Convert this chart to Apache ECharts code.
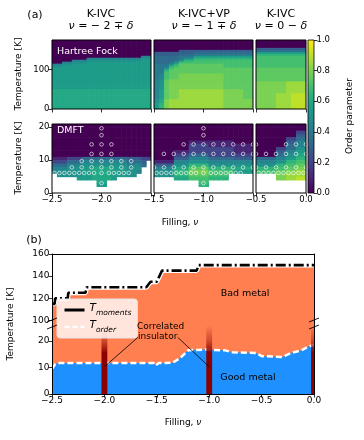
<!DOCTYPE html>
<html>
<head>
<meta charset="utf-8">
<script src="https://cdn.jsdelivr.net/npm/echarts@6/dist/echarts.min.js"></script>
<style>
  html, body { margin: 0; padding: 0; background: #fff; }
  #chart { width: 364px; height: 440px; }
</style>
</head>
<body>
<div id="chart"></div>
<script>
// order parameter maps, one string per temperature row (top row first),
// one char per 0.05 of filling. '0'..'9','A' = 0.0..1.0, 'a'..'j' = 0.05..0.95, '.' = no data
const hfLeft = [
  '00000000000000000000','00000000000000000000','00000000000000000000','00000000000000000000',
  '00000000000000000000','00000000000000000000','00000000000000000000','00000000000000000000',
  '000000000000000000ee','0000000eeeeeeeeeee55','0000eee55555555555ff','00ee555fffffffffffff',
  'ee55ffffffffffffffff','55ffffffffffffffffff','ffffffffffffffffffff','ffffffffffffffffffff',
  'ffffffffffffffffffff','ffffffffffffffffffff','ffffffffffffffffffff','ffffffffffffffffffff',
  'ffffffffffffffffffff','ffffffffffffffffffff','ffffffffffffffffffff','ffffffffffffffffffff',
  'ffffffffffffffffffff','66666666666666666666','66666666666666666666','66666666666666666666',
  '66666666666666666666','66666666666666666666','66666666666666666666','66666666666666666666',
  '66666666666666666666','66666666666666666666','66666666666666666666'
];
const hfMid = [
  '00000000000000000000','00000000000000000000','00000000000000000000','00000000000000000000',
  '00000000000000000000','00000333333333333333','33333333dddddddddddd','33333ddd444444444444',
  'ddddd444ffffffffffff','ddddd455gggggggggggg','dddd45gg777777777777','ddd45777777777777777',
  '4445ghhhhhhhhh777777','444g7hhhhhhhhh777777','4457hhhhhhhhhhhhhhhh','44ghhhhhhhhhhhhhhhhh',
  '447hhhhhhhhhhhhhhhhh','4e7hh888888888hhhhhh','4e7hh888888888hhhhhh','4e7hh888888888hhhhhh',
  'e5h88888888888hhhhhh','e5h88888888888hhhhhh','e5h88888888888hhhhhh','e5h88888888888hhhhhh',
  'e5h88888888888hhhhhh','efh88iiiiiiiii8888hh','efh88iiiiiiiii8888hh','efh88iiiiiiiii8888hh',
  'efh88iiiiiiiii8888hh','efh88iiiiiiiii8888hh','568iiiiiiiiiii888888','568iiiiiiiiiii888888',
  'fg8iiiiiiiiiii888888','fg8iiiiiiiiiii888888','fg8iiiiiiiiiii888888'
];
const hfRight = [
  '0000000000','0000000000','0000000000','0000000000','3333333333','dddddddddd','ffffffffff',
  'gggggggggg','7777777777','7777777777','7777777777','7777777777','7777777777','7777777777',
  'hhhhhhhhhh','hhhhhhhhhh','hhhhhhhhhh','hhhhhhhhhh','hhhhhhhhhh','hhhhhhhhhh','hhhhhhhhhh',
  '888888iiii','888888iiii','888888iiii','888888iiii','888888iiii','888888iiii',
  '8888iii999','8888iii999','8888iii999','8888iii999','8888iii999','8888iii999','8888iii999','8888iii999'
];
const dmftLeft = [
  '00000000000000000000','00000000000000000000','00000000000000000000','00000000000000000000',
  '00000000000000000000','00000000000000000000','00000000000000000000','00000000000000000000',
  '00000000000000000000','00000000000000000000','111222ddddddddd33322','222dddeeeeeeeeeddd3.',
  'dddeee555555555eeed.','eee555ff6666fff555..','e55555ff6666fff55e..','.55555ff6666fff55...',
  '.....fff6666f.......','.........66.........','.........ff.........','....................',
  '....................'
];
const dmftMid = [
  '00000000000000000000','00000000000000000000','00000000000000000000','00000000000000000000',
  '00000000000000000000','00000001111111110000','00000002222111111111','00000002222222221111',
  '00001112222222221111','0000222dddd222222222','0000333eeeeddddd3333','1111eee5555eeeeeeeee',
  '3333555gggg555555555','eeee666hhhhggggg6666','5555ggg888877777ffff','5555ggghhhh7777.....',
  '....6667777gggg.....','.........77.........','.........gg.........','....................',
  '....................'
];
const dmftRight = [
  '0000000000','0000000000','0000000022','0000000033','00000022dd','00000033ee','000000ddee',
  '000022dd55','000033eeff','0000dd5566','ddddeeffgg','eeee55gg77','5555gg77hh','gggg77hh88',
  '7777hh88ii','....88iiii','....88ii99','..........','..........','..........','..........'
];

// DMFT sample points: temperatures and the fillings computed at each
const dotT = [19.7, 17.6, 14.8, 11.9, 9.7, 7.8, 6.1, 3.0];
const dotF = [
  [-2.0, -1.0],
  [-2.0, -1.0],
  [-2.1, -2.0, -1.9, -1.2, -1.1, -1.0, -0.9, -0.8, -0.7, -0.6, -0.5, -0.2, -0.1, 0.0],
  [-2.1, -2.0, -1.9, -1.4, -1.3, -1.2, -1.1, -1.0, -0.9, -0.8, -0.7, -0.6, -0.5, -0.4, -0.3, -0.2, -0.1, 0.0],
  [-2.2, -2.1, -2.0, -1.9, -1.8, -1.7],
  [-2.3, -2.2, -2.1, -2.0, -1.9, -1.8, -1.7, -1.5, -1.4, -1.3, -1.2, -1.1, -1.0, -0.9, -0.8, -0.7, -0.6,
   -0.5, -0.4, -0.3, -0.2, -0.1, 0.0],
  [-2.475, -2.425, -2.375, -2.325, -2.275, -2.225, -2.175, -2.125, -2.075, -2.0, -1.925, -1.875, -1.825,
   -1.775, -1.725, -1.475, -1.425, -1.375, -1.325, -1.275, -1.225, -1.175, -1.125, -1.075, -1.0, -0.925,
   -0.875, -0.825, -0.775, -0.725, -0.675, -0.625, -0.475, -0.425, -0.375, -0.325, -0.275, -0.225,
   -0.175, -0.125, -0.075, -0.025],
  [-2.0, -1.0]
];

// panel (b)
const momF = [-2.5, -2.475, -2.47, -2.35, -2.345, -2.18, -2.17, -1.60, -1.56, -1.50, -1.45, -1.12, -1.10, 0.0];
const momT = [115, 115, 120, 120, 125, 125, 130, 130, 135, 135, 145, 145, 150, 150];
const ordF = [-2.5, -2.47, -2.44, -1.53, -1.51, -1.48, -1.35, -1.28, -1.20, -1.05, -0.85, -0.78, -0.55,
  -0.50, -0.30, -0.22, -0.12, -0.05, 0.0];
const ordT = [9.5, 11.2, 11.7, 11.7, 10.8, 11.7, 11.8, 13.5, 16.5, 16.8, 16.5, 15.8, 15.5, 14.3, 14.0,
  15.5, 16.5, 18.0, 18.5];
const insF = [-2.0, -1.0, 0.0];
const insTop = [25.7, 25.7, 25.7];
const annotFrom = [[-1.68, 21.4], [-1.30, 21.4]];
const annotTo = [[-2.0, 10.3], [-1.0, 10.3]];

const VIRIDIS = ['#440154','#471365','#482475','#463480','#414487','#3b528b','#355f8d','#2f6c8e',
  '#2a788e','#25848e','#21918c','#1e9c89','#22a884','#2fb47c','#44bf70','#5ec962','#7ad151',
  '#9bd93c','#bddf26','#dfe318','#fde725'];
const LEVELS = '0a1b2c3d4e5f6g7h8i9jA';
const FONT = 'DejaVu Sans';
const CORAL = '#FF7F50', BLUE = '#1E90FF', DARKRED = '#8B0000';

const fmt = v => (v < 0 ? '\u2212' : '') + Math.abs(v).toFixed(1);

function cells(rows, f0, tMax, dT) {
  const out = [];
  rows.forEach((row, i) => {
    for (let j = 0; j < row.length; j++) {
      if (row[j] === '.') continue;
      out.push([f0 + j * 0.05, tMax - (i + 1) * dT, LEVELS.indexOf(row[j])]);
    }
  });
  return out;
}

function heat(gi, rows, f0, tMax, dT) {
  return {
    type: 'custom', xAxisIndex: gi, yAxisIndex: gi, clip: true, silent: true,
    data: cells(rows, f0, tMax, dT),
    renderItem(params, api) {
      const a = api.coord([api.value(0), api.value(1) + dT]);
      const b = api.coord([api.value(0) + 0.05, api.value(1)]);
      return {
        type: 'rect',
        shape: { x: a[0], y: a[1], width: b[0] - a[0] + 0.6, height: b[1] - a[1] + 0.6 },
        style: { fill: VIRIDIS[api.value(2)] }
      };
    }
  };
}

function dots(gi, fMin, fMax) {
  const pts = [];
  dotT.forEach((t, i) => dotF[i].forEach(f => {
    if (f >= fMin - 1e-6 && f <= fMax + 1e-6) pts.push([f, t]);
  }));
  return {
    type: 'scatter', xAxisIndex: gi, yAxisIndex: gi, data: pts, symbol: 'circle', symbolSize: 3.6,
    itemStyle: { color: 'rgba(0,0,0,0)', borderColor: '#fff', borderWidth: 0.8 }, z: 5, silent: true
  };
}

const tick = (vals, show = true) => ({
  show, length: 3.5, customValues: vals, lineStyle: { color: '#000', width: 0.8 }
});
const lab = (vals, size, f) => ({
  show: vals.length > 0, customValues: vals, fontSize: size, color: '#000', fontFamily: FONT,
  margin: 2.5, formatter: f
});

const panels = [
  { left: 52, width: 99, min: -2.5, max: -1.5 },
  { left: 154, width: 99, min: -1.5, max: -0.5 },
  { left: 256, width: 50, min: -0.5, max: 0 }
];
const grids = [], xAxes = [], yAxes = [];
// HF row (grids 0-2), DMFT row (grids 3-5)
[[40, 175, [0, 100]], [124, 21, [0, 10, 20]]].forEach(([top, tmax, yt], r) => {
  panels.forEach((p, k) => {
    const gi = grids.length;
    grids.push({ left: p.left, top, width: p.width, height: 69, show: true, z: 10,
      backgroundColor: 'rgba(0,0,0,0)', borderColor: '#000', borderWidth: 1 });
    const xt = k === 0 ? [-2.5, -2.0, -1.5] : k === 1 ? [-1.5, -1.0, -0.5] : [-0.5, 0.0];
    const xl = r === 0 ? [] : (k === 0 ? [-2.5, -2.0] : k === 1 ? [-1.5, -1.0] : [-0.5, 0.0]);
    xAxes.push({ type: 'value', gridIndex: gi, min: p.min, max: p.max, axisLine: { show: false },
      splitLine: { show: false }, axisTick: tick(xt), axisLabel: lab(xl, 8.5, fmt) });
    yAxes.push({ type: 'value', gridIndex: gi, min: 0, max: tmax, axisLine: { show: false, onZero: false },
      splitLine: { show: false }, axisTick: tick(yt, k === 0),
      axisLabel: lab(k === 0 ? yt : [], 8.5, v => String(v)) });
  });
});
// colorbar (grid 6)
grids.push({ left: 308, top: 40, width: 6, height: 153, show: true, z: 10,
  backgroundColor: 'rgba(0,0,0,0)', borderColor: '#000', borderWidth: 0.8 });
xAxes.push({ type: 'value', gridIndex: 6, min: 0, max: 1, show: false });
yAxes.push({ type: 'value', gridIndex: 6, min: 0, max: 1, position: 'right',
  axisLine: { show: false, onZero: false }, splitLine: { show: false },
  axisTick: tick([0, 0.2, 0.4, 0.6, 0.8, 1.0]),
  axisLabel: lab([0, 0.2, 0.4, 0.6, 0.8, 1.0], 8.5, v => v.toFixed(1)) });
// panel (b): upper part (grid 7) and lower part (grid 8) of the broken axis
const spine = { show: true, onZero: false, lineStyle: { color: '#000', width: 1 } };
grids.push({ left: 52, top: 254, width: 262, height: 72 });
grids.push({ left: 52, top: 326, width: 262, height: 68, show: true, backgroundColor: CORAL, borderWidth: 0 });
xAxes.push({ type: 'value', gridIndex: 7, min: -2.5, max: 0, show: false });
xAxes.push({ type: 'value', gridIndex: 8, min: -2.5, max: 0, interval: 0.5, z: 10, axisLine: spine,
  splitLine: { show: false }, axisTick: tick([-2.5, -2, -1.5, -1, -0.5, 0]),
  axisLabel: lab([-2.5, -2, -1.5, -1, -0.5, 0], 9, fmt) });
yAxes.push({ type: 'value', gridIndex: 7, min: 95, max: 160, z: 10, axisLine: spine, splitLine: { show: false },
  axisTick: tick([100, 120, 140, 160]), axisLabel: lab([100, 120, 140, 160], 9, v => String(v)) });
yAxes.push({ type: 'value', gridIndex: 8, min: 0, max: 25.7, z: 10, axisLine: spine, splitLine: { show: false },
  axisTick: tick([0, 10, 20]), axisLabel: lab([0, 10, 20], 9, v => String(v)) });
// extra spines
xAxes.push({ type: 'value', gridIndex: 7, min: -2.5, max: 0, position: 'top', z: 10, axisLine: spine,
  axisTick: { show: false }, axisLabel: { show: false }, splitLine: { show: false } });
yAxes.push({ type: 'value', gridIndex: 7, min: 95, max: 160, position: 'right', z: 10, axisLine: spine,
  axisTick: { show: false }, axisLabel: { show: false }, splitLine: { show: false } });
yAxes.push({ type: 'value', gridIndex: 8, min: 0, max: 25.7, position: 'right', z: 10, axisLine: spine,
  axisTick: { show: false }, axisLabel: { show: false }, splitLine: { show: false } });

const series = [
  heat(0, hfLeft, -2.5, 175, 5), heat(1, hfMid, -1.5, 175, 5), heat(2, hfRight, -0.5, 175, 5),
  heat(3, dmftLeft, -2.5, 21, 1), heat(4, dmftMid, -1.5, 21, 1), heat(5, dmftRight, -0.5, 21, 1),
  dots(3, -2.5, -1.5), dots(4, -1.5, -0.5), dots(5, -0.5, 0),
  {
    type: 'custom', xAxisIndex: 6, yAxisIndex: 6, data: [[0, 0]], silent: true,
    renderItem(params, api) {
      const a = api.coord([0, 1]), b = api.coord([1, 0]);
      return { type: 'rect', shape: { x: a[0], y: a[1], width: b[0] - a[0], height: b[1] - a[1] },
        style: { fill: new echarts.graphic.LinearGradient(0, 1, 0, 0,
          VIRIDIS.map((c, i) => ({ offset: i / 20, color: c }))) } };
    }
  },
  {
    name: 'halo', type: 'line', xAxisIndex: 7, yAxisIndex: 7, data: momF.map((f, i) => [f, momT[i]]),
    symbol: 'none', lineStyle: { color: '#fff', width: 5 }, areaStyle: { color: CORAL, opacity: 1, origin: 'start' },
    z: 2, silent: true
  },
  {
    name: 'Tmom', type: 'line', xAxisIndex: 7, yAxisIndex: 7, data: momF.map((f, i) => [f, momT[i]]),
    symbol: 'none', lineStyle: { color: '#000', width: 2.6, type: [10, 3, 2, 3] }, z: 3, silent: true
  },
  {
    name: 'Tord', type: 'line', xAxisIndex: 8, yAxisIndex: 8, data: ordF.map((f, i) => [f, ordT[i]]),
    symbol: 'none', lineStyle: { color: '#fff', width: 2.5, type: [6, 3] },
    areaStyle: { color: BLUE, opacity: 1, origin: 'start' }, z: 2, silent: true
  },
  {
    type: 'custom', xAxisIndex: 8, yAxisIndex: 8, clip: true, silent: true, z: 4,
    data: insF.map((f, i) => [f, insTop[i]]),
    renderItem(params, api) {
      const a = api.coord([api.value(0) - 0.028, api.value(1)]);
      const b = api.coord([api.value(0) + 0.028, 0]);
      return { type: 'rect', shape: { x: a[0], y: a[1], width: b[0] - a[0], height: b[1] - a[1] },
        style: { fill: new echarts.graphic.LinearGradient(0, 0, 0, 1, [
          { offset: 0, color: 'rgba(139,0,0,0)' }, { offset: 0.2, color: 'rgba(160,20,10,0.45)' },
          { offset: 0.4, color: DARKRED }, { offset: 1, color: DARKRED }]) } };
    }
  }
];
annotFrom.forEach((p, i) => series.push({
  type: 'line', xAxisIndex: 8, yAxisIndex: 8, data: [p, annotTo[i]], symbol: 'none', silent: true,
  lineStyle: { color: '#000', width: 0.8 }, z: 6
}));

const txt = (x, y, text, size, extra) => ({
  type: 'text', x, y, z: 100, silent: true,
  style: Object.assign({ text, fontSize: size, fontFamily: FONT, fill: '#000', align: 'center', verticalAlign: 'middle' }, extra || {})
});
const greek = { i: { fontStyle: 'italic', fontSize: 11, fontFamily: FONT } };
const brk = (x1, y1, x2, y2) => ({ type: 'line', z: 100, silent: true,
  shape: { x1, y1, x2, y2 }, style: { stroke: '#000', lineWidth: 0.9 } });

const graphic = [
  txt(35, 15, '(a)', 11),
  txt(101, 14, 'K-IVC', 11), txt(101, 26, '{i|\u03bd} = \u2212 2 \u2213 {i|\u03b4}', 11, { rich: greek }),
  txt(204, 14, 'K-IVC+VP', 11), txt(204, 26, '{i|\u03bd} = \u2212 1 \u2213 {i|\u03b4}', 11, { rich: greek }),
  txt(281, 14, 'K-IVC', 11), txt(281, 26, '{i|\u03bd} = 0 \u2212 {i|\u03b4}', 11, { rich: greek }),
  txt(57, 52, 'Hartree Fock', 9.5, { align: 'left', fill: '#fff' }),
  txt(57, 131, 'DMFT', 9.5, { align: 'left', fill: '#fff' }),
  Object.assign(txt(19, 74, 'Temperature [K]', 9), { rotation: Math.PI / 2 }),
  Object.assign(txt(19, 158, 'Temperature [K]', 9), { rotation: Math.PI / 2 }),
  Object.assign(txt(350, 116, 'Order parameter', 9), { rotation: Math.PI / 2 }),
  txt(180, 223, 'Filling, {i|\u03bd}', 9, { rich: { i: { fontStyle: 'italic', fontSize: 9, fontFamily: FONT } } }),
  txt(34, 240, '(b)', 11),
  Object.assign(txt(11, 324, 'Temperature [K]', 9), { rotation: Math.PI / 2 }),
  txt(183, 423, 'Filling, {i|\u03bd}', 9, { rich: { i: { fontStyle: 'italic', fontSize: 9, fontFamily: FONT } } }),
  txt(245, 294, 'Bad metal', 9.5),
  txt(248, 378, 'Good metal', 9.5),
  txt(137, 327, 'Correlated', 9, { align: 'left' }),
  txt(138, 337, 'insulator', 9, { align: 'left' }),
  brk(47, 322, 57, 318), brk(47, 329, 57, 325),
  brk(309, 322, 319, 318), brk(309, 329, 319, 325)
];

const chart = echarts.init(document.getElementById('chart'), null, { renderer: 'canvas' });
chart.setOption({
  animation: false,
  backgroundColor: '#fff',
  textStyle: { fontFamily: FONT },
  grid: grids, xAxis: xAxes, yAxis: yAxes, series, graphic,
  legend: {
    left: 57, top: 299, orient: 'vertical', itemWidth: 20, itemHeight: 10, itemGap: 3,
    padding: [4, 6, 4, 6], backgroundColor: 'rgba(255,255,255,0.8)', borderColor: '#e6e6e6',
    borderWidth: 1, borderRadius: 3, z: 20, selectedMode: false,
    data: [
      { name: 'Tmom', itemStyle: { opacity: 0 }, lineStyle: { type: 'solid', width: 3, color: '#000' } },
      { name: 'Tord', itemStyle: { opacity: 0 }, lineStyle: { type: [5, 3], width: 2.5, color: '#fff' } }
    ],
    formatter: n => n === 'Tmom' ? '{t|T}{s|moments}' : '{t|T}{s|order}',
    textStyle: {
      color: '#000', fontFamily: FONT, fontSize: 10,
      rich: {
        t: { fontStyle: 'italic', fontSize: 10.5, fontFamily: FONT, lineHeight: 14, verticalAlign: 'top' },
        s: { fontStyle: 'italic', fontSize: 7.5, fontFamily: FONT, lineHeight: 9, verticalAlign: 'bottom' }
      }
    }
  }
});
</script>
</body>
</html>
